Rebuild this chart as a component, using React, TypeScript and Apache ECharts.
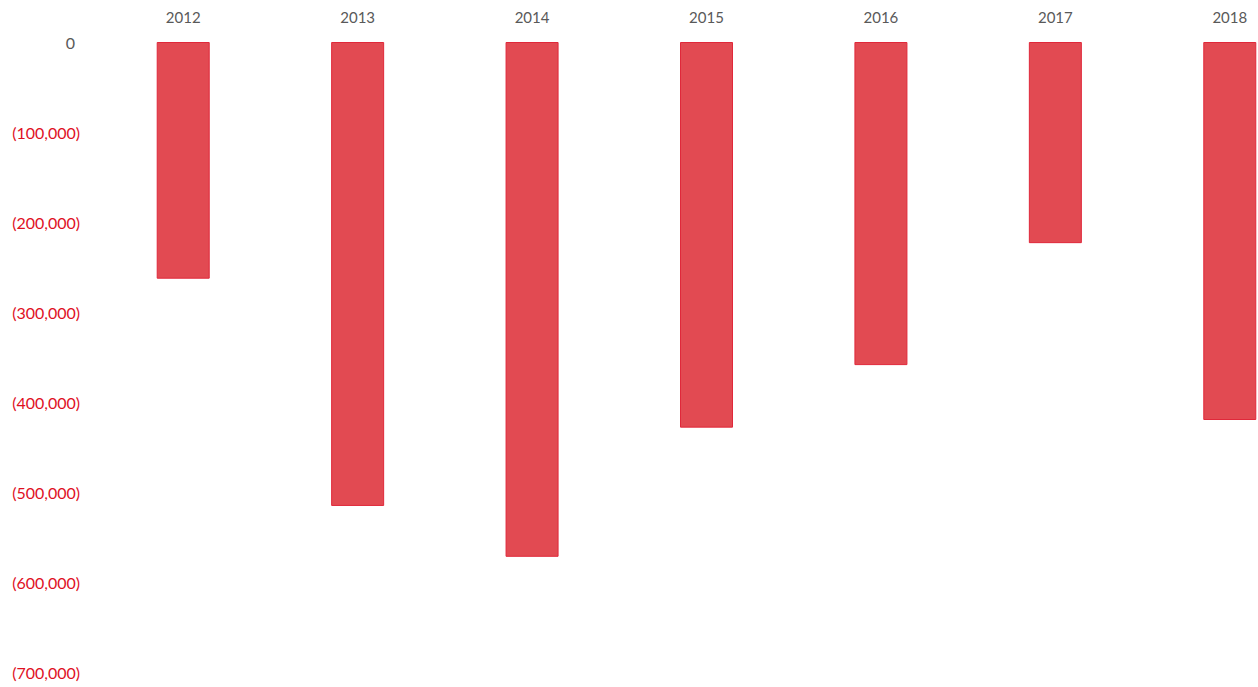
import React, { useEffect, useRef } from "react";
import * as echarts from "echarts";

const years = ["2012", "2013", "2014", "2015", "2016", "2017", "2018"];
const values = [-263000, -515500, -572000, -428500, -359000, -223500, -420000];
const yMin = -700000;
const yMax = 0;
const yStep = 100000;

function fmt(v: number): string {
  if (v === 0) return "{z|0}";
  const s = Math.abs(v).toLocaleString("en-US");
  return "{n|(" + s + ")}";
}

export default function App() {
  const ref = useRef<HTMLDivElement>(null);
  useEffect(() => {
    if (!ref.current) return;
    const chart = echarts.init(ref.current, null, { renderer: "svg" });
    chart.setOption({
      animation: false,
      backgroundColor: "#ffffff",
      grid: { left: 96, width: 1221, top: 42, height: 630, containLabel: false },
      xAxis: {
        type: "category",
        data: years,
        position: "top",
        axisLine: { show: false },
        axisTick: { show: false },
        axisLabel: {
          color: "#595959",
          fontSize: 15,
          fontFamily: "Lato",
          margin: 18,
        },
      },
      yAxis: {
        type: "value",
        min: yMin,
        max: yMax,
        interval: yStep,
        axisLine: { show: false },
        axisTick: { show: false },
        splitLine: { show: false },
        axisLabel: {
          margin: 16,
          formatter: (v: number) => fmt(v),
          rich: {
            z: { color: "#595959", fontSize: 16, fontFamily: "Lato", padding: [0, 5, 0, 0] },
            n: { color: "#E0101F", fontSize: 16, fontFamily: "Lato" },
          },
        },
      },
      series: [
        {
          type: "bar",
          data: values,
          barWidth: 53,
          itemStyle: { color: "#E24A52", borderColor: "#E0283A", borderWidth: 1 },
        },
      ],
    });
    return () => chart.dispose();
  }, []);
  return (
    <div
      style={{
        position: "absolute",
        left: 0,
        top: 0,
        width: 1258,
        height: 687,
        overflow: "hidden",
        background: "#ffffff",
      }}
    >
      <div ref={ref} style={{ width: 1320, height: 687 }} />
    </div>
  );
}
